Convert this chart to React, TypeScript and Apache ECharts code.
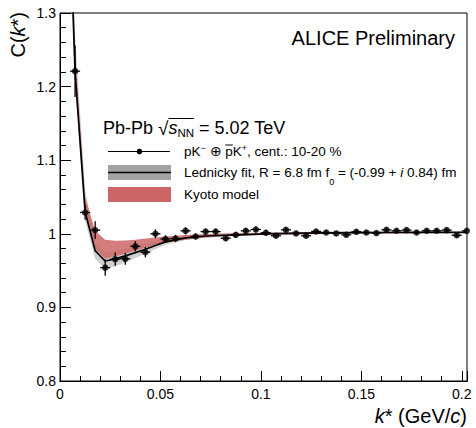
import React, { useEffect, useRef } from "react";
import * as echarts from "echarts";

// ---------- data ----------
const kStar = [
  0.0075, 0.0125, 0.0175, 0.0225, 0.0275, 0.0325, 0.0375, 0.0425, 0.0475, 0.0525,
  0.0575, 0.0625, 0.0675, 0.0725, 0.0775, 0.0825, 0.0875, 0.0925, 0.0975, 0.1025,
  0.1075, 0.1125, 0.1175, 0.1225, 0.1275, 0.1325, 0.1375, 0.1425, 0.1475, 0.1525,
  0.1575, 0.1625, 0.1675, 0.1725, 0.1775, 0.1825, 0.1875, 0.1925, 0.1975, 0.2025,
];
const cValue = [
  1.221, 1.029, 1.005, 0.954, 0.9655, 0.966, 0.983, 0.975, 1.0, 0.993,
  0.9936, 1.004, 0.9964, 1.003, 1.003, 0.994, 0.9986, 1.004, 1.0059, 1.0015,
  0.9973, 1.0054, 1.0005, 0.9973, 1.0032, 1.0018, 1.0005, 0.9986, 1.0027, 1.0018,
  1.001, 1.0054, 1.0041, 1.005, 1.0018, 1.0041, 1.0041, 1.005, 0.998, 1.004,
];
const cError = [
  0.035, 0.01, 0.012, 0.011, 0.009, 0.008, 0.007, 0.007, 0.006, 0.005,
  0.005, 0.005, 0.004, 0.004, 0.004, 0.004, 0.004, 0.004, 0.004, 0.004,
  0.003, 0.003, 0.003, 0.003, 0.003, 0.003, 0.003, 0.003, 0.003, 0.003,
  0.003, 0.003, 0.003, 0.003, 0.003, 0.003, 0.003, 0.003, 0.003, 0.003,
];
const binHalfWidth = 0.0025;

const curveK = [
  0.0025, 0.0075, 0.0125, 0.0175, 0.0225, 0.0275, 0.0325, 0.0375, 0.0425, 0.0475,
  0.0525, 0.0625, 0.0725, 0.0825, 0.0925, 0.1025, 0.1225, 0.1425, 0.1625, 0.1825, 0.2025,
];
const fitC = [
  1.62, 1.22, 1.03, 0.977, 0.963, 0.966, 0.97, 0.9745, 0.979, 0.984,
  0.989, 0.9945, 0.997, 0.998, 0.999, 0.9998, 1.0008, 1.0015, 1.0018, 1.002, 1.002,
];
const fitLow = [
  1.58, 1.2, 1.018, 0.966, 0.952, 0.956, 0.961, 0.967, 0.973, 0.979,
  0.985, 0.9915, 0.9945, 0.996, 0.9975, 0.9985, 0.9995, 1.0003, 1.0007, 1.001, 1.001,
];
const fitHigh = [
  1.7, 1.27, 1.06, 0.99, 0.975, 0.977, 0.98, 0.983, 0.986, 0.99,
  0.994, 0.998, 0.9998, 1.0005, 1.001, 1.0013, 1.0022, 1.0027, 1.003, 1.003, 1.003,
];
const kyotoLow = [
  1.62, 1.22, 1.03, 0.979, 0.966, 0.969, 0.973, 0.977, 0.981, 0.985,
  0.988, 0.992, 0.995, 0.997, 0.998, 0.999, 0.9995, 1.0, 1.0005, 1.0008, 1.001,
];
const kyotoHigh = [
  1.7, 1.245, 1.05, 1.004, 0.992, 0.9905, 0.991, 0.992, 0.9935, 0.995,
  0.9965, 0.9985, 0.9995, 1.0005, 1.001, 1.0015, 1.002, 1.0022, 1.0024, 1.0025, 1.0025,
];

const xTickValues = [0, 0.05, 0.1, 0.15, 0.2];

// ---------- helpers ----------
const FAMILY = '"Liberation Sans", Arial, Helvetica, sans-serif';
const fontOf = (size: number, italic?: boolean) =>
  `${italic ? "italic " : ""}${size}px ${FAMILY}`;

let measureCtx: CanvasRenderingContext2D | null = null;
function textWidth(t: string, font: string) {
  if (!measureCtx) measureCtx = document.createElement("canvas").getContext("2d");
  measureCtx!.font = font;
  return measureCtx!.measureText(t).width;
}

type Seg = { t: string; size: number; italic?: boolean; dy?: number; overY?: number };

function runWidth(segs: Seg[]) {
  return segs.reduce((s, g) => s + textWidth(g.t, fontOf(g.size, g.italic)), 0);
}

function runs(x0: number, y: number, segs: Seg[]): any[] {
  const els: any[] = [];
  let x = x0;
  for (const g of segs) {
    const font = fontOf(g.size, g.italic);
    const w = textWidth(g.t, font);
    els.push({
      type: "text",
      x,
      y: y + (g.dy || 0),
      silent: true,
      style: {
        text: g.t,
        font,
        fill: "#000",
        textAlign: "left",
        textVerticalAlign: "middle",
      },
    });
    if (g.overY !== undefined) {
      els.push({
        type: "line",
        silent: true,
        shape: { x1: x, y1: y + g.overY, x2: x + w, y2: y + g.overY },
        style: { stroke: "#000", lineWidth: 1 },
      });
    }
    x += w;
  }
  return els;
}

function bandSeries(lowArr: number[], highArr: number[], fill: string) {
  return {
    type: "custom",
    clip: true,
    silent: true,
    data: [[0.1, 1]],
    renderItem: (params: any, api: any) => {
      const pts: number[][] = [];
      for (let i = 0; i < curveK.length; i++) pts.push(api.coord([curveK[i], highArr[i]]));
      for (let i = curveK.length - 1; i >= 0; i--) pts.push(api.coord([curveK[i], lowArr[i]]));
      return { type: "polygon", shape: { points: pts }, style: { fill } };
    },
  };
}

export default function App() {
  const ref = useRef<HTMLDivElement>(null);

  useEffect(() => {
    const chart = echarts.init(ref.current!, null, { renderer: "svg" });

    const graphics: any[] = [];
    // y axis title (rotated)
    graphics.push({
      type: "text",
      x: 18,
      y: 12,
      rotation: Math.PI / 2,
      silent: true,
      style: {
        text: "{n|C(}{i|k}{n|*)}",
        rich: {
          n: { font: fontOf(20), fill: "#000" },
          i: { font: fontOf(20, true), fill: "#000" },
        },
        textAlign: "right",
        textVerticalAlign: "middle",
      },
    });
    // x axis title
    const xTitle: Seg[] = [
      { t: "k", size: 20, italic: true },
      { t: "* (GeV/", size: 20 },
      { t: "c", size: 20, italic: true },
      { t: ")", size: 20 },
    ];
    graphics.push(...runs(467 - runWidth(xTitle), 416, xTitle));
    // ALICE Preliminary
    graphics.push({
      type: "text",
      x: 455,
      y: 38,
      silent: true,
      style: {
        text: "ALICE Preliminary",
        font: fontOf(20),
        fill: "#000",
        textAlign: "right",
        textVerticalAlign: "middle",
      },
    });
    // system label
    graphics.push(
      ...runs(103, 128, [
        { t: "Pb-Pb ", size: 18 },
        { t: "√", size: 19 },
        { t: "s", size: 18, italic: true, overY: -9.5 },
        { t: "NN", size: 11.5, dy: 5, overY: -9.5 },
        { t: " = 5.02 TeV", size: 18 },
      ])
    );
    // legend symbols
    graphics.push(
      {
        type: "line",
        silent: true,
        shape: { x1: 108, y1: 151.5, x2: 170, y2: 151.5 },
        style: { stroke: "#000", lineWidth: 1 },
      },
      { type: "circle", silent: true, shape: { cx: 139.5, cy: 151.5, r: 2.8 }, style: { fill: "#000" } },
      { type: "rect", silent: true, shape: { x: 108, y: 165, width: 63, height: 15 }, style: { fill: "#a3a3a3" } },
      {
        type: "line",
        silent: true,
        shape: { x1: 108, y1: 172.5, x2: 171, y2: 172.5 },
        style: { stroke: "#000", lineWidth: 1.6 },
      },
      { type: "rect", silent: true, shape: { x: 108, y: 187, width: 63, height: 15 }, style: { fill: "#cc6666" } }
    );
    graphics.push(
      ...runs(184, 151.5, [
        { t: "pK", size: 13.5 },
        { t: "−", size: 9, dy: -4 },
        { t: " ⊕ ", size: 13.5 },
        { t: "p", size: 13.5, overY: -6.5 },
        { t: "K", size: 13.5 },
        { t: "+", size: 9, dy: -4 },
        { t: ", cent.: 10-20 %", size: 13.5 },
      ])
    );
    graphics.push(
      ...runs(184, 172.5, [
        { t: "Lednicky fit, R = 6.8 fm f", size: 13.5 },
        { t: "0", size: 9, dy: 9 },
        { t: " = (-0.99 + ", size: 13.5 },
        { t: "i", size: 13.5, italic: true },
        { t: " 0.84) fm", size: 13.5 },
      ])
    );
    graphics.push(...runs(184, 194.5, [{ t: "Kyoto model", size: 13.5 }]));

    const gridBox = { left: 60, right: 9, top: 13, bottom: 47 };

    const option: any = {
      animation: false,
      backgroundColor: "#fff",
      grid: [
        {
          ...gridBox,
          show: true,
          borderColor: "#000",
          borderWidth: 1,
          backgroundColor: "transparent",
        },
        { ...gridBox, show: false },
      ],
      xAxis: [
        {
          type: "value",
          gridIndex: 0,
          min: 0,
          max: 0.2026,
          interval: 0.05,
          position: "bottom",
          axisLine: { show: true, onZero: false, lineStyle: { color: "#000", width: 1 } },
          axisTick: { show: true, inside: true, length: 10, lineStyle: { color: "#000" } },
          axisLabel: {
            margin: 6,
            color: "#000",
            fontSize: 14,
            fontFamily: FAMILY,
            formatter: (v: number) => {
              const hit = xTickValues.find((t) => Math.abs(t - v) < 1e-6);
              return hit === undefined ? "" : String(hit);
            },
          },
          splitLine: { show: false },
        },
        {
          type: "value",
          gridIndex: 1,
          min: 0,
          max: 0.2026,
          interval: 0.01,
          position: "bottom",
          axisLine: { show: true, onZero: false, lineStyle: { color: "#000", width: 1 } },
          axisTick: { show: true, inside: true, length: 5, lineStyle: { color: "#000" } },
          axisLabel: { show: false },
          splitLine: { show: false },
        },
      ],
      yAxis: [
        {
          type: "value",
          gridIndex: 0,
          min: 0.8,
          max: 1.3,
          interval: 0.1,
          axisLine: { show: true, onZero: false, lineStyle: { color: "#000", width: 1 } },
          axisTick: { show: true, inside: true, length: 11, lineStyle: { color: "#000" } },
          minorTick: { show: true, splitNumber: 5, length: 6, lineStyle: { color: "#000" } },
          axisLabel: {
            margin: 4,
            color: "#000",
            fontSize: 14,
            fontFamily: FAMILY,
            formatter: (v: number) => String(+v.toFixed(2)),
          },
          splitLine: { show: false },
          minorSplitLine: { show: false },
        },
        {
          type: "value",
          gridIndex: 1,
          min: 0.8,
          max: 1.3,
          show: false,
        },
      ],
      graphic: { elements: graphics },
      series: [
        bandSeries(fitLow, fitHigh, "rgba(170,170,170,0.55)"),
        bandSeries(kyotoLow, kyotoHigh, "rgba(204,102,102,0.85)"),
        {
          type: "line",
          data: curveK.map((k, i) => [k, fitC[i]]),
          symbol: "none",
          lineStyle: { color: "#000", width: 1.7 },
          clip: true,
          silent: true,
        },
        {
          type: "custom",
          clip: true,
          silent: true,
          data: kStar.map((k, i) => [k, cValue[i], cError[i]]),
          encode: { x: 0, y: 1 },
          renderItem: (params: any, api: any) => {
            const k = api.value(0);
            const c = api.value(1);
            const e = api.value(2);
            const a = api.coord([k, c - e]);
            const b = api.coord([k, c + e]);
            const l = api.coord([k - binHalfWidth, c]);
            const r = api.coord([k + binHalfWidth, c]);
            return {
              type: "group",
              children: [
                { type: "line", shape: { x1: a[0], y1: a[1], x2: b[0], y2: b[1] }, style: { stroke: "#000", lineWidth: 1.3 } },
                { type: "line", shape: { x1: l[0], y1: l[1], x2: r[0], y2: r[1] }, style: { stroke: "#000", lineWidth: 1.3 } },
              ],
            };
          },
        },
        {
          type: "scatter",
          data: kStar.map((k, i) => [k, cValue[i]]),
          symbol: "circle",
          symbolSize: 6.5,
          itemStyle: { color: "#000" },
          silent: true,
        },
      ],
    };

    chart.setOption(option);
    return () => chart.dispose();
  }, []);

  return (
    <div
      ref={ref}
      style={{ position: "fixed", left: 0, top: 0, width: 476, height: 428 }}
    />
  );
}
